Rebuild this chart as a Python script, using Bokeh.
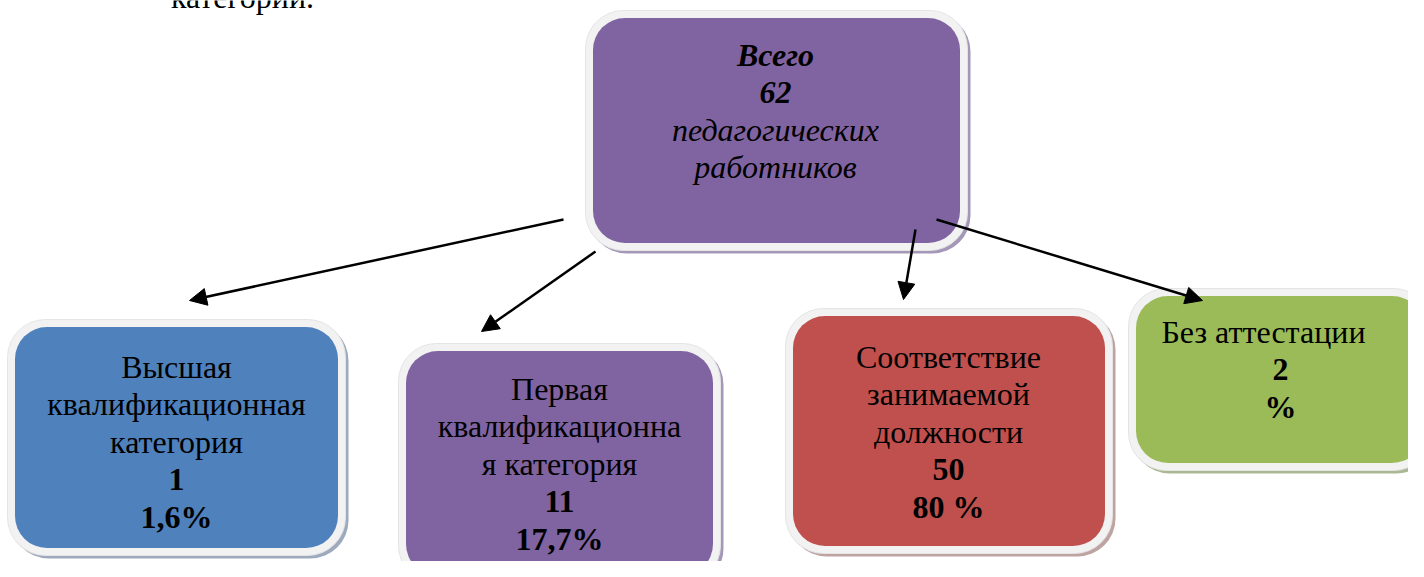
from bokeh.plotting import figure
from bokeh.models import Range1d, Arrow, NormalHead, ColumnDataSource
from bokeh.core.properties import value
from bokeh.embed import file_html
from bokeh.resources import INLINE

# ---------------- data ----------------
top_title = "Всего"
top_total = "62"
top_desc = ["педагогических", "работников"]

category_lines = [
    ["Высшая", "квалификационная", "категория"],
    ["Первая", "квалификационна", "я категория"],
    ["Соответствие", "занимаемой", "должности"],
    ["Без аттестации"],
]
counts = ["1", "11", "50", "2"]
percents = ["1,6%", "17,7%", "80 %", "%"]
cut_caption = "категорий."

# ---------------- layout / style ----------------
FONT = "Liberation Serif"
FS = "32px"
LINE = 37.5

fill_colors = ["#8064a2", "#4f81bd", "#8064a2", "#c0504d", "#9bbb59"]
shadow_colors = ["#a497b8", "#9daabd", "#a497b8", "#bfa2a2", "#aab893"]
# outer (border) boxes: left, top, right, bottom  (picture pixel coords)
outer = [
    (585, 10, 967, 250),
    (7, 319, 345, 555),
    (398, 343, 720, 583),
    (785, 308, 1112, 553),
    (1128, 288, 1431, 470),
]
INSET = 7.5

p = figure(width=1408, height=561, x_range=Range1d(0, 1408), y_range=Range1d(561, 0),
           output_backend="svg", toolbar_location=None, min_border=0,
           x_axis_type=None, y_axis_type=None)
p.grid.visible = False
p.outline_line_color = None
p.background_fill_color = "white"

L = [o[0] for o in outer]
T = [o[1] for o in outer]
R = [o[2] for o in outer]
B = [o[3] for o in outer]

# shadow
p.quad(left=[l + 3 for l in L], right=[r + 3 for r in R], top=[t + 3 for t in T],
       bottom=[b + 3 for b in B], fill_color=shadow_colors, line_color=None,
       border_radius=38)
# white border
p.quad(left=L, right=R, top=T, bottom=B, fill_color="#f2f2f2", line_color="#e4e4e4",
       line_width=1, border_radius=38)
# coloured fill
p.quad(left=[l + INSET for l in L], right=[r - INSET for r in R],
       top=[t + INSET for t in T], bottom=[b - INSET for b in B],
       fill_color=fill_colors, line_color=None, border_radius=32)

# arrows (start -> tip)
arrow_src = ColumnDataSource(dict(
    x0=[563, 595, 915, 936], y0=[219, 251, 229, 219],
    x1=[189, 481, 903, 1202], y1=[300, 331, 299, 300],
))
p.add_layout(Arrow(end=NormalHead(size=17, fill_color="black", line_color="black", line_width=1),
                   x_start="x0", y_start="y0", x_end="x1", y_end="y1",
                   source=arrow_src, line_color="black", line_width=2.5))

# ---------------- texts ----------------
tx, ty, tt, tstyle = [], [], [], []

# top box
top_cx = 775
top_y0 = 54
for i, (txt, st) in enumerate([(top_title, "bold italic"), (top_total, "bold italic"),
                               (top_desc[0], "italic"), (top_desc[1], "italic")]):
    tx.append(top_cx); ty.append(top_y0 + i * LINE); tt.append(txt); tstyle.append(st)

label_cx = [176, 559, 948, 1263]
value_cx = [176, 559, 948, 1280]
first_y = [366, 388, 356, 331]
for k in range(4):
    lines = [(s, "normal", label_cx[k]) for s in category_lines[k]]
    lines += [(counts[k], "bold", value_cx[k]), (percents[k], "bold", value_cx[k])]
    for i, (s, st, cx) in enumerate(lines):
        tx.append(cx); ty.append(first_y[k] + i * LINE); tt.append(s); tstyle.append(st)

src = ColumnDataSource(dict(x=tx, y=ty, text=tt, style=tstyle))
p.text(x="x", y="y", text="text", source=src, text_font=value(FONT),
       text_font_size=FS, text_font_style="style", text_align="center",
       text_baseline="middle", text_color="black")

# caption cut by the top edge
p.text(x=[242], y=[-4], text=[cut_caption], text_font=value(FONT), text_font_size="32px",
       text_align="center", text_baseline="middle", text_color="black")

open("out.html", "w").write(file_html(p, INLINE))
